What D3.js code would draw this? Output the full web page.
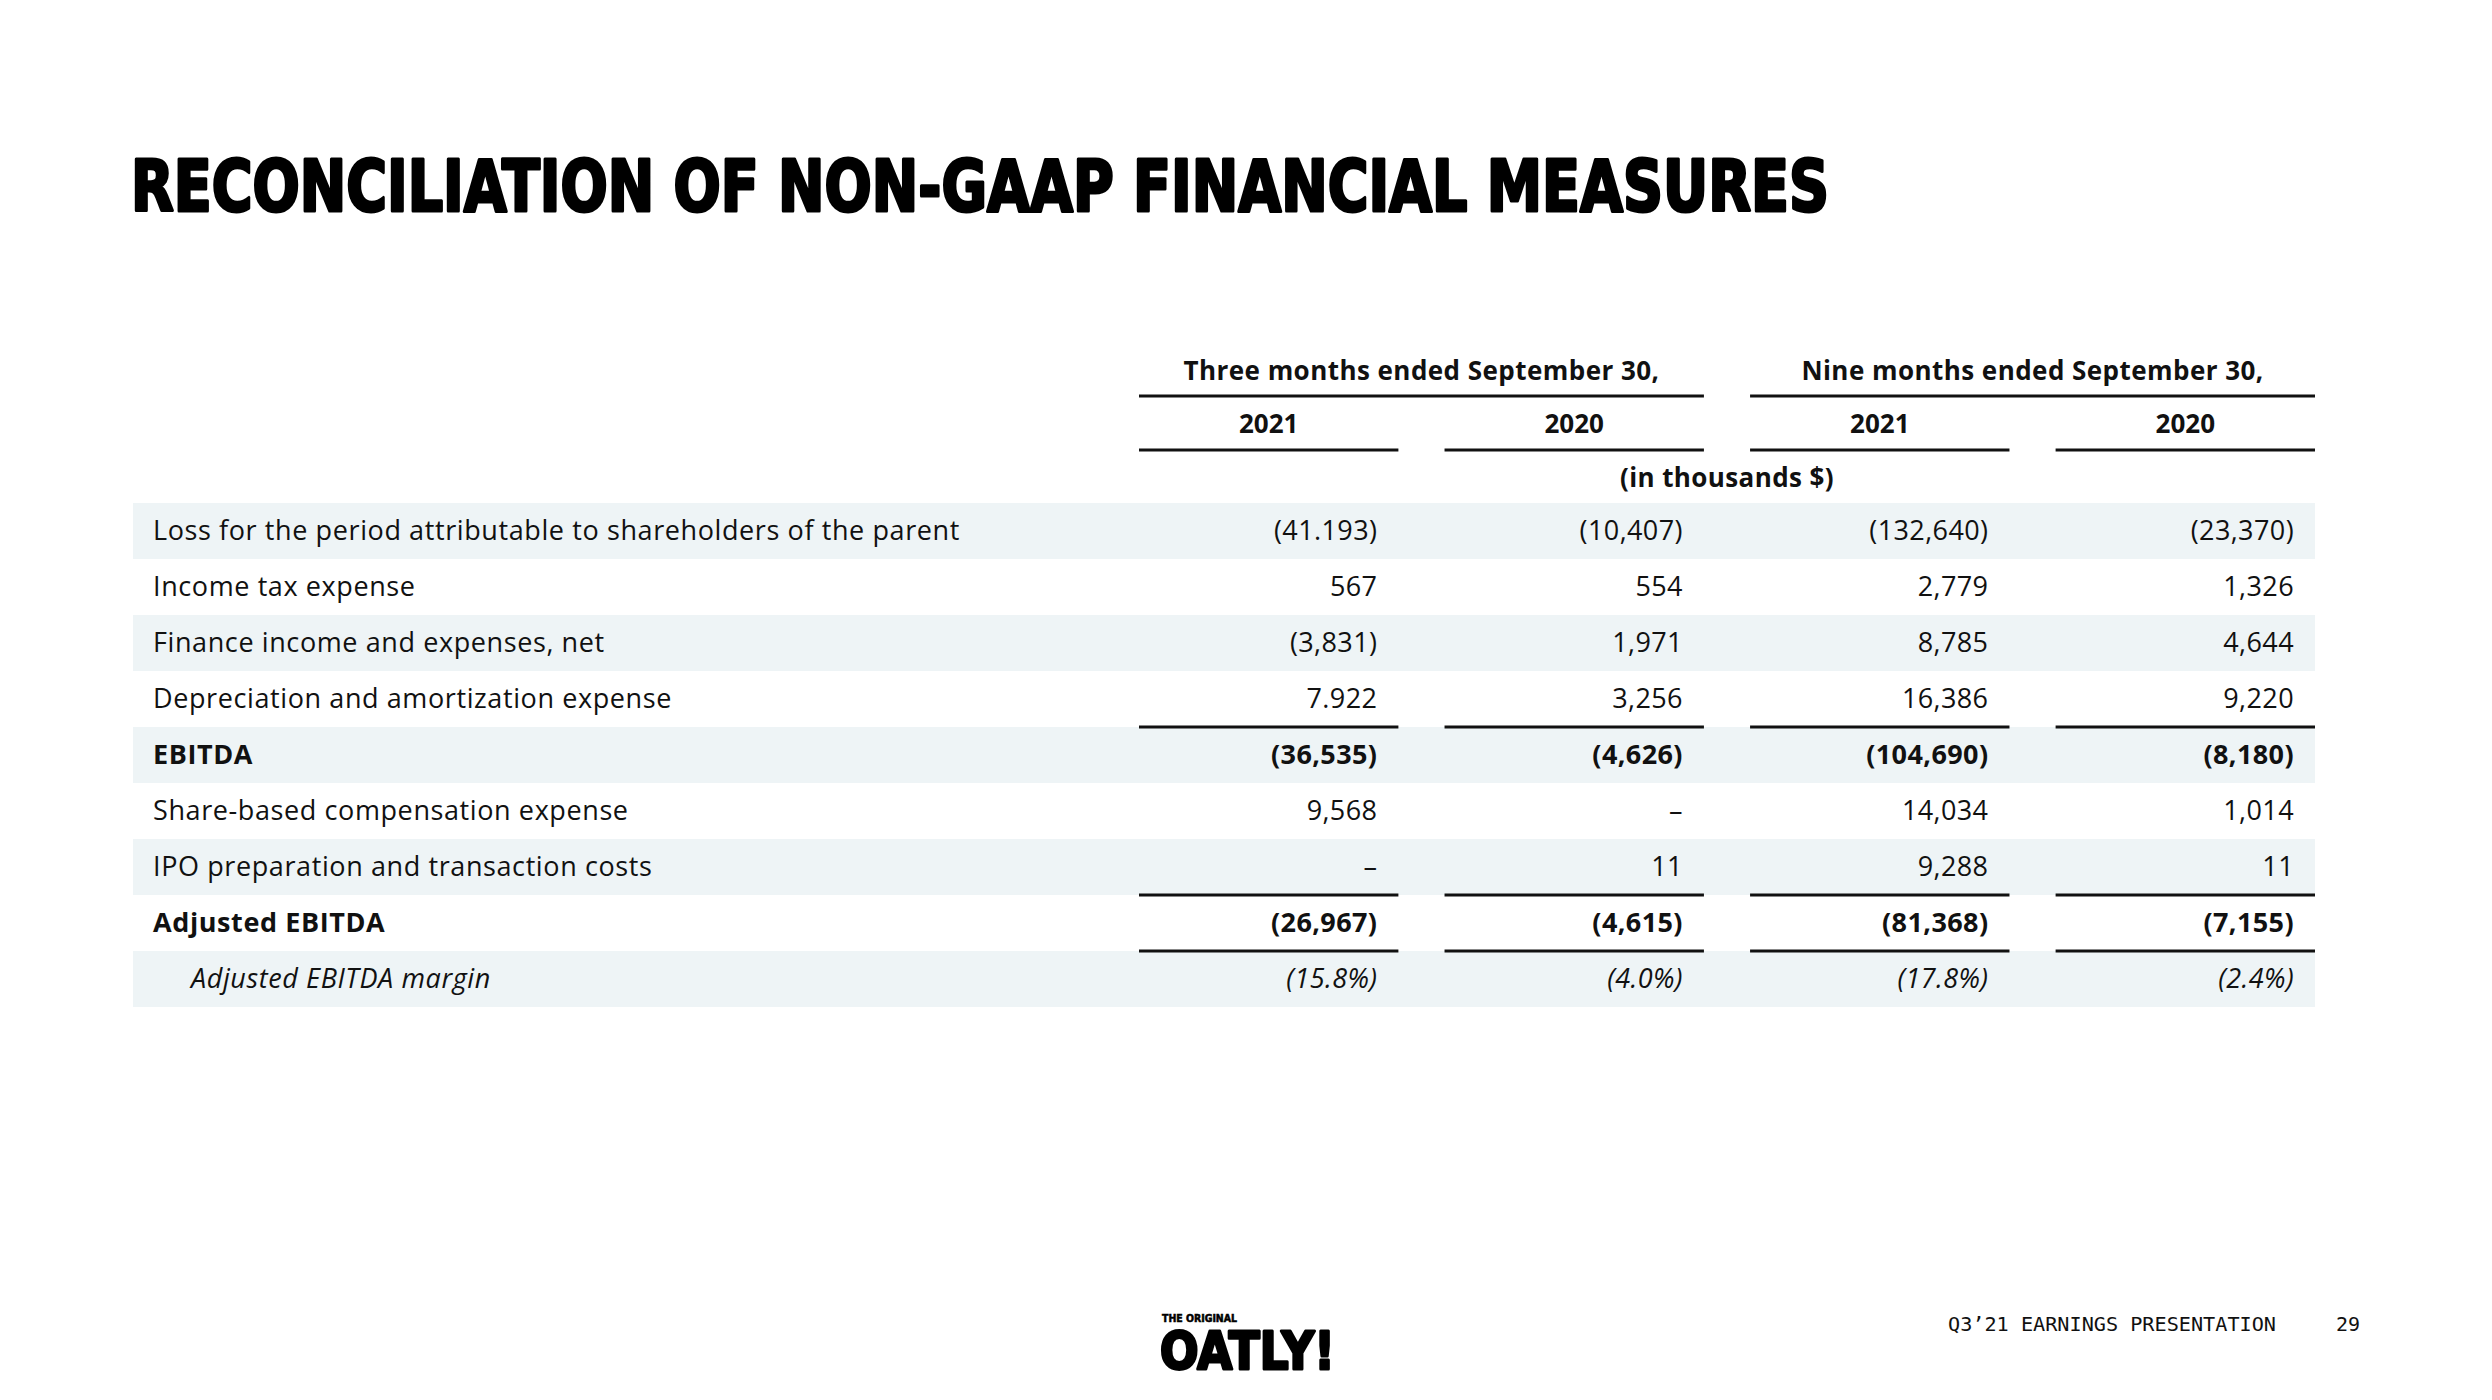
<!DOCTYPE html>
<html><head><meta charset="utf-8">
<script src="https://cdn.jsdelivr.net/npm/d3@7"></script>
<style>html,body{margin:0;padding:0;background:#fff;}svg{display:block;}</style>
</head><body>
<svg id="c" width="2492" height="1400"></svg>
<script>
const title = "RECONCILIATION OF NON-GAAP FINANCIAL MEASURES";
const periodHeaders = ["Three months ended September 30,", "Nine months ended September 30,"];
const yearHeaders = ["2021", "2020", "2021", "2020"];
const unitNote = "(in thousands $)";
const rowLabels = [
  "Loss for the period attributable to shareholders of the parent",
  "Income tax expense",
  "Finance income and expenses, net",
  "Depreciation and amortization expense",
  "EBITDA",
  "Share-based compensation expense",
  "IPO preparation and transaction costs",
  "Adjusted EBITDA",
  "Adjusted EBITDA margin"
];
const threeMonths2021 = ["(41.193)", "567", "(3,831)", "7.922", "(36,535)", "9,568", "–", "(26,967)", "(15.8%)"];
const threeMonths2020 = ["(10,407)", "554", "1,971", "3,256", "(4,626)", "–", "11", "(4,615)", "(4.0%)"];
const nineMonths2021 = ["(132,640)", "2,779", "8,785", "16,386", "(104,690)", "14,034", "9,288", "(81,368)", "(17.8%)"];
const nineMonths2020 = ["(23,370)", "1,326", "4,644", "9,220", "(8,180)", "1,014", "11", "(7,155)", "(2.4%)"];
const boldRows = ["EBITDA", "Adjusted EBITDA"];
const italicRows = ["Adjusted EBITDA margin"];
const linesAboveRows = ["EBITDA", "Adjusted EBITDA", "Adjusted EBITDA margin"];
const footerText = "Q3’21 EARNINGS PRESENTATION";
const pageNumber = "29";

const columns = [threeMonths2021, threeMonths2020, nineMonths2021, nineMonths2020];
const svg = d3.select("#c");
const FONT = "'Open Sans', sans-serif";
const INK = "#111";

// title
svg.append("text").attr("x", 131).attr("y", 211)
  .attr("font-family", "'DejaVu Sans Condensed','DejaVu Sans',sans-serif")
  .attr("font-weight", 900).attr("font-size", 72)
  .attr("textLength", 1698).attr("lengthAdjust", "spacingAndGlyphs")
  .attr("fill", "#000").attr("stroke", "#000").attr("stroke-width", 3).attr("stroke-linejoin", "round")
  .text(title);

// scales
const y = d3.scaleBand().domain(d3.range(rowLabels.length)).range([503, 1007]).padding(0);
const colIdx = d3.range(columns.length);
const x = d3.scaleBand().domain(colIdx).range([1139, 2315]).paddingInner(0.151).paddingOuter(0);
const tableLeft = 133, tableRight = 2315;

// shaded rows
svg.append("g").selectAll("rect").data(rowLabels.map((d, i) => i).filter(i => i % 2 === 0))
  .join("rect")
  .attr("x", tableLeft).attr("width", tableRight - tableLeft)
  .attr("y", i => y(i)).attr("height", y.bandwidth())
  .attr("fill", "#EEF4F6");

// period headers
const groups = [[0, 1], [2, 3]];
groups.forEach((g, gi) => {
  const x0 = x(g[0]), x1 = x(g[1]) + x.bandwidth();
  svg.append("text").attr("x", (x0 + x1) / 2).attr("y", 380)
    .attr("text-anchor", "middle").attr("font-family", FONT).attr("font-weight", 700)
    .attr("font-size", 26).attr("letter-spacing", 0.45).attr("fill", INK).text(periodHeaders[gi]);
  svg.append("line").attr("x1", x0).attr("x2", x1).attr("y1", 396).attr("y2", 396)
    .attr("stroke", INK).attr("stroke-width", 3);
});

// year headers
svg.append("g").selectAll("text").data(colIdx).join("text")
  .attr("x", i => x(i) + x.bandwidth() / 2).attr("y", 433)
  .attr("text-anchor", "middle").attr("font-family", FONT).attr("font-weight", 700)
  .attr("font-size", 26).attr("fill", INK).text(i => yearHeaders[i]);
svg.append("g").selectAll("line").data(colIdx).join("line")
  .attr("x1", i => x(i)).attr("x2", i => x(i) + x.bandwidth())
  .attr("y1", 450).attr("y2", 450).attr("stroke", INK).attr("stroke-width", 3);

svg.append("text").attr("x", (x(1) + x(2) + x.bandwidth()) / 2).attr("y", 487)
  .attr("text-anchor", "middle").attr("font-family", FONT).attr("font-weight", 700)
  .attr("font-size", 26).attr("letter-spacing", 0.4).attr("fill", INK).text(unitNote);

// row labels
const rowG = svg.append("g");
rowLabels.forEach((lab, i) => {
  const isBold = boldRows.includes(lab), isIt = italicRows.includes(lab);
  const cy = y(i) + y.bandwidth() / 2 + 9;
  rowG.append("text").attr("x", isIt ? 191 : 153).attr("y", cy)
    .attr("font-family", FONT).attr("font-size", 27).attr("letter-spacing", 0.6)
    .attr("font-weight", isBold ? 700 : 400).attr("font-style", isIt ? "italic" : "normal")
    .attr("fill", INK).text(lab);
  columns.forEach((col, ci) => {
    rowG.append("text").attr("x", x(ci) + x.bandwidth() - 21).attr("y", cy)
      .attr("text-anchor", "end").attr("font-family", FONT).attr("font-size", 27).attr("letter-spacing", 0.4)
      .attr("font-weight", isBold ? 700 : 400).attr("font-style", isIt ? "italic" : "normal")
      .attr("fill", INK).text(col[i]);
  });
  if (linesAboveRows.includes(lab)) {
    colIdx.forEach(ci => {
      rowG.append("line").attr("x1", x(ci)).attr("x2", x(ci) + x.bandwidth())
        .attr("y1", y(i)).attr("y2", y(i)).attr("stroke", INK).attr("stroke-width", 3);
    });
  }
});

// footer logo
const logo = svg.append("g").attr("transform", "translate(1160,0)");
logo.append("text").attr("x", 2).attr("y", 1322).attr("font-family", "'DejaVu Sans',sans-serif")
  .attr("font-weight", 900).attr("font-size", 11).attr("textLength", 75).attr("lengthAdjust", "spacingAndGlyphs")
  .attr("fill", "#000").attr("stroke", "#000").attr("stroke-width", 0.6).text("THE ORIGINAL");
logo.append("text").attr("x", 0).attr("y", 1369).attr("font-family", "'DejaVu Sans',sans-serif")
  .attr("font-weight", 900).attr("font-size", 52).attr("textLength", 175).attr("lengthAdjust", "spacingAndGlyphs")
  .attr("fill", "#000").attr("stroke", "#000").attr("stroke-width", 3).attr("stroke-linejoin", "round").text("OATLY!");

svg.append("text").attr("x", 1948).attr("y", 1331).attr("font-family", "'DejaVu Sans Mono',monospace")
  .attr("font-size", 20).attr("textLength", 328).attr("lengthAdjust", "spacingAndGlyphs")
  .attr("fill", "#111").text(footerText);
svg.append("text").attr("x", 2360).attr("y", 1331).attr("text-anchor", "end")
  .attr("font-family", "'DejaVu Sans Mono',monospace").attr("font-size", 20)
  .attr("fill", "#111").text(pageNumber);
</script>
</body></html>
